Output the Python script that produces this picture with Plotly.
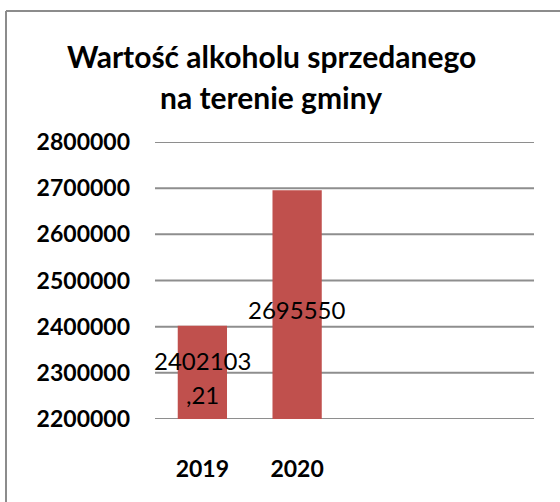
import plotly.graph_objects as go

categories = ["2019", "2020", " ", "  "]
values = [2402103.21, 2695550, None, None]
labels = ["2402103<br>,21", "2695550", "", ""]
y_min, y_max = 2200000, 2800000
y_ticks = [2200000, 2300000, 2400000, 2500000, 2600000, 2700000, 2800000]
title_text = "Wartość alkoholu sprzedanego<br>na terenie gminy"

W, H = 560, 502
L, R, T, B = 155, 26, 142, 83
pw, ph = W - L - R, H - T - B

def px_x(x):
    return (x - L) / pw

def px_y(y):
    return (H - B - y) / ph

fig = go.Figure()
fig.add_trace(go.Bar(
    x=categories, y=values,
    marker=dict(color="#C0504D", line=dict(width=0)),
    width=0.52, hoverinfo="skip",
))

annotations = []
# data labels centred in the visible part of each bar
for idx, (val, lab) in enumerate(zip(values, labels)):
    if val is None or not lab:
        continue
    mid = (y_min + val) / 2
    lines = lab.split("<br>")
    n = len(lines)
    for i, line in enumerate(lines):
        annotations.append(dict(
            x=idx, y=mid, xref="x", yref="y", text=line, showarrow=False,
            xanchor="center", yanchor="middle",
            yshift=-((i - (n - 1) / 2) * 34) - 5,
            font=dict(family="Lato", size=24, color="black"),
        ))

# title lines
for i, line in enumerate(title_text.split("<br>")):
    annotations.append(dict(
        text="<b>" + line + "</b>", xref="paper", yref="paper",
        x=px_x(271), y=px_y(56 + 41 * i), xanchor="center", yanchor="middle",
        showarrow=False, align="center",
        font=dict(family="Lato", size=30, color="black"),
    ))

grid = "#8E8E8E"
shapes = [
    dict(type="line", xref="paper", yref="y", x0=0, x1=1, y0=v, y1=v,
         layer="below", line=dict(color=grid, width=2))
    for v in y_ticks
]
shapes += [
    dict(type="line", xref="paper", yref="paper",
         x0=px_x(6), x1=px_x(6), y0=px_y(11), y1=px_y(510),
         line=dict(color="#8C8C8C", width=2)),
    dict(type="line", xref="paper", yref="paper",
         x0=px_x(6), x1=px_x(570), y0=px_y(11), y1=px_y(11),
         line=dict(color="#8C8C8C", width=2)),
]

fig.update_layout(
    width=W, height=H,
    margin=dict(l=L, r=R, t=T, b=B),
    paper_bgcolor="white", plot_bgcolor="white",
    showlegend=False,
    font=dict(family="Lato", color="black"),
    xaxis=dict(type="category", categoryorder="array", categoryarray=categories,
               range=[-0.5, len(categories) - 0.5], autorange=False,
               showgrid=False, showline=False, zeroline=False,
               tickfont=dict(family="Lato", size=23, color="black", weight="bold"),
               ticklabelstandoff=34, fixedrange=True),
    yaxis=dict(range=[y_min, y_max], autorange=False, tickvals=y_ticks,
               ticktext=[str(v) for v in y_ticks],
               showgrid=False, zeroline=False, showline=False,
               tickfont=dict(family="Lato", size=23, color="black", weight="bold"),
               ticklabelstandoff=24, fixedrange=True),
    annotations=annotations,
    shapes=shapes,
)

fig.write_html("out.html", config={"displayModeBar": False},
               post_script="document.body.style.margin='0';document.body.style.overflow='hidden';")
